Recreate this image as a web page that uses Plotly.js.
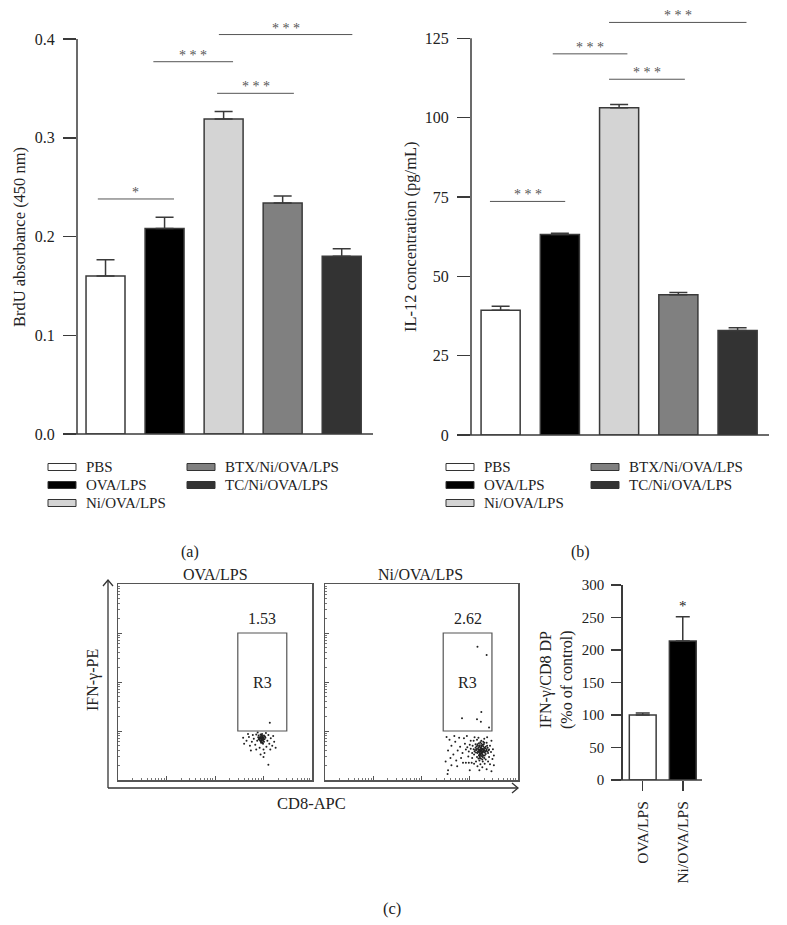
<!DOCTYPE html>
<html><head><meta charset="utf-8">
<script src="https://cdn.plot.ly/plotly-3.0.1.min.js"></script>
<style>body{margin:0;background:#fff}#chart{width:787px;height:925px}</style>
</head><body><div id="chart"></div>
<script>
// ---------------- data ----------------
const groups = ['PBS','OVA/LPS','Ni/OVA/LPS','BTX/Ni/OVA/LPS','TC/Ni/OVA/LPS'];
const groupColors = ['#ffffff','#000000','#d4d4d4','#808080','#333333'];
const brduMean = [0.160, 0.208, 0.319, 0.234, 0.180];
const brduErr  = [0.0165, 0.0115, 0.0075, 0.007, 0.0075];
const il12Mean = [39.3, 63.2, 103.1, 44.2, 32.9];
const il12Err  = [1.3, 0.4, 1.0, 0.7, 0.9];
const brduTicks = [0, 0.1, 0.2, 0.3, 0.4];
const brduTickText = ['0.0','0.1','0.2','0.3','0.4'];
const il12Ticks = [0, 25, 50, 75, 100, 125];
// significance brackets: x span (category units), y level, label
const brduSigX0 = [-0.13, 0.81, 1.89, 1.92];
const brduSigX1 = [1.16, 2.16, 3.19, 4.18];
const brduSigY  = [0.238, 0.377, 0.345, 0.4045];
const brduSigLabel = ['*','* * *','* * *','* * *'];
const il12SigX0 = [-0.18, 0.88, 1.83, 1.83];
const il12SigX1 = [1.09, 2.14, 3.11, 4.15];
const il12SigY  = [73.6, 120.1, 112.1, 130.0];
const il12SigLabel = ['* * *','* * *','* * *','* * *'];

const ifnGroups = ['OVA/LPS','Ni/OVA/LPS'];
const ifnColors = ['#ffffff','#000000'];
const ifnMean = [100, 214];
const ifnErr  = [3, 37];
const ifnTicks = [0, 50, 100, 150, 200, 250, 300];
const ifnSigLabel = ['', '*'];

// flow cytometry (log10 decades of fluorescence)
const flowTitles = ['OVA/LPS','Ni/OVA/LPS'];
const gatePct = ['1.53','2.62'];
const gateX0 = [2.47, 2.45];
const gateX1 = [3.48, 3.46];
const gateY0 = [1, 1];
const gateY1 = [3, 3];
const ovaDotsX = [2.95,2.97,2.93,2.99,2.96,2.91,3.00,2.94,2.98,2.92,2.96,3.02,2.89,2.95,3.01,2.97,2.90,3.04,2.87,2.99,
  2.80,2.76,2.70,2.65,2.60,2.72,2.83,2.85,2.78,3.08,3.12,3.15,3.10,3.18,3.22,3.06,2.92,3.00,2.85,3.14,2.68,2.58,3.20,3.05,2.88,3.02,2.94,3.10,3.00,3.13,3.25,2.74,
  2.96,2.94,2.98,2.93,2.97,2.95,3.00,2.92,2.99,2.96,3.03,2.90,2.94,3.01,2.98];
const ovaDotsY = [0.86,0.84,0.88,0.82,0.80,0.85,0.87,0.79,0.90,0.82,0.92,0.83,0.87,0.76,0.78,0.94,0.91,0.86,0.80,0.74,
  0.84,0.78,0.88,0.80,0.74,0.70,0.72,0.93,0.92,0.80,0.74,0.85,0.92,0.70,0.78,0.68,0.66,0.62,0.62,0.62,0.94,0.86,0.90,0.96,0.97,0.55,0.52,0.31,0.47,1.17,0.66,0.60,
  0.83,0.85,0.86,0.81,0.88,0.90,0.84,0.86,0.80,0.77,0.89,0.83,0.93,0.91,0.76];
const niDotsX = [3.23,3.25,3.21,3.27,3.19,3.24,3.29,3.22,3.26,3.18,3.30,3.20,3.28,3.16,3.32,3.25,3.14,3.33,3.21,3.27,3.17,3.35,3.12,3.23,3.30,3.10,3.36,3.19,3.28,3.15,3.38,3.08,3.24,3.33,3.12,3.40,3.06,3.20,3.35,3.27,
  3.05,3.02,3.00,3.08,3.15,3.30,3.42,3.44,3.40,3.38,3.31,3.22,3.13,3.05,2.98,2.95,3.02,3.18,3.45,3.47,3.42,3.26,3.16,3.09,2.97,2.92,2.90,3.36,3.48,3.10,
  2.85,2.80,2.75,2.70,2.66,2.62,2.58,2.55,2.52,2.60,2.72,2.82,2.88,2.78,2.68,2.86,2.92,2.98,3.04,2.74,2.62,2.55,2.50,3.20,3.35,3.50,3.50,2.94,3.00,3.45,2.54,
  3.22,3.24,3.26,3.20,3.28,3.23,3.25,3.21,3.27,3.19,3.29,3.22,3.24,3.26,3.18,3.31,3.20,3.28,3.17,3.30,3.23,3.25,3.21,3.32,3.15,3.27,3.34,3.19,3.29,3.13,3.24,3.36,3.16,3.31,3.21,3.11,3.33,3.26,3.18,3.37,3.09,3.14,3.22,3.30,3.39,
  3.16,3.35,3.24,2.84,3.15,3.23,3.40];
const niDotsY = [0.58,0.60,0.62,0.56,0.57,0.64,0.61,0.53,0.52,0.63,0.66,0.68,0.50,0.55,0.58,0.70,0.61,0.53,0.48,0.72,0.70,0.63,0.66,0.44,0.45,0.58,0.70,0.75,0.78,0.47,0.55,0.63,0.80,0.42,0.73,0.62,0.70,0.40,0.76,0.38,
  0.55,0.64,0.72,0.80,0.82,0.84,0.70,0.57,0.47,0.38,0.33,0.32,0.38,0.45,0.58,0.67,0.80,0.86,0.80,0.43,0.32,0.26,0.28,0.33,0.48,0.62,0.74,0.87,0.63,0.87,
  0.55,0.68,0.60,0.78,0.52,0.70,0.82,0.60,0.88,0.45,0.40,0.45,0.85,0.86,0.90,0.35,0.35,0.35,0.35,0.28,0.30,0.20,0.38,0.20,0.22,0.50,0.30,0.90,0.20,0.18,0.12,
  0.60,0.56,0.62,0.59,0.58,0.66,0.54,0.55,0.64,0.61,0.63,0.51,0.68,0.57,0.66,0.56,0.52,0.69,0.58,0.60,0.63,0.49,0.71,0.65,0.64,0.47,0.60,0.50,0.73,0.56,0.74,0.58,0.73,0.50,0.45,0.61,0.68,0.42,0.44,0.66,0.52,0.69,0.77,0.76,0.60,
  2.72,2.55,1.39,1.26,1.24,1.19,1.07];

// ---------------- helpers (pixel -> paper) ----------------
const W = 787, H = 925;
const PX = p => p / W;
const PY = p => 1 - p / H;
const FONT = 'Liberation Serif, Times New Roman, serif';
const TXT = '#222';
const LINE = '#3a3a3a';

function domY(zeroPx, refPx, refVal, maxVal) {
  const s = (zeroPx - refPx) / refVal;
  return [PY(zeroPx), PY(zeroPx - maxVal * s)];
}

const traces = [];
const shapes = [];
const annotations = [];

function addAnno(o) { annotations.push(Object.assign({showarrow:false, xanchor:'center', yanchor:'middle', font:{family:FONT,size:16,color:TXT}}, o)); }

// ---------------- panel a & b bars ----------------
const idx = groups.map((g,i)=>i);
traces.push({type:'bar', x: idx, y: brduMean, xaxis:'x', yaxis:'y', width:0.66,
  marker:{color:groupColors, line:{color:LINE, width:1.5}},
  error_y:{type:'data', symmetric:false, array:brduErr, arrayminus:brduErr.map(()=>0), color:LINE, thickness:1.5, width:9},
  showlegend:false, hoverinfo:'skip'});
traces.push({type:'bar', x: idx, y: il12Mean, xaxis:'x2', yaxis:'y2', width:0.66,
  marker:{color:groupColors, line:{color:LINE, width:1.5}},
  error_y:{type:'data', symmetric:false, array:il12Err, arrayminus:il12Err.map(()=>0), color:LINE, thickness:1.5, width:9},
  showlegend:false, hoverinfo:'skip'});

// significance brackets
function sig(x0s,x1s,ys,labels,xa,ya){
  ys.forEach((y,i)=>{
    shapes.push({type:'line', xref:xa, yref:ya, x0:x0s[i], x1:x1s[i], y0:y, y1:y, line:{color:'#555', width:1}});
    addAnno({xref:xa, yref:ya, x:(x0s[i]+x1s[i])/2, y:y, yanchor:'bottom', yshift:-3, text:labels[i], font:{family:FONT,size:14,color:'#555'}});
  });
}
sig(brduSigX0,brduSigX1,brduSigY,brduSigLabel,'x','y');
sig(il12SigX0,il12SigX1,il12SigY,il12SigLabel,'x2','y2');

// ---------------- panel c bars ----------------
traces.push({type:'bar', x: ifnGroups, y: ifnMean, xaxis:'x5', yaxis:'y5', width:0.67,
  marker:{color:ifnColors, line:{color:LINE, width:1.5}},
  error_y:{type:'data', symmetric:false, array:ifnErr, arrayminus:ifnErr.map(()=>0), color:LINE, thickness:1.5, width:7},
  showlegend:false, hoverinfo:'skip'});
ifnGroups.forEach((g,i)=>{ if(ifnSigLabel[i]) addAnno({xref:'x5', yref:'y5', x:g, y:ifnMean[i]+ifnErr[i], yanchor:'bottom', yshift:1, text:ifnSigLabel[i], font:{family:FONT,size:15,color:TXT}}); });

// ---------------- flow dot plots ----------------
traces.push({type:'scatter', mode:'markers', x: ovaDotsX, y: ovaDotsY, xaxis:'x3', yaxis:'y3', marker:{size:2, color:'#222'}, showlegend:false, hoverinfo:'skip'});
traces.push({type:'scatter', mode:'markers', x: niDotsX, y: niDotsY, xaxis:'x4', yaxis:'y4', marker:{size:2, color:'#222'}, showlegend:false, hoverinfo:'skip'});
[['x3','y3'],['x4','y4']].forEach(([xa,ya],i)=>{
  shapes.push({type:'rect', xref:xa, yref:ya, x0:gateX0[i], x1:gateX1[i], y0:gateY0[i], y1:gateY1[i], line:{color:'#555', width:1.2}});
  addAnno({xref:xa, yref:ya, x:(gateX0[i]+gateX1[i])/2, y:gateY1[i], yanchor:'bottom', yshift:4, text:gatePct[i]});
  addAnno({xref:xa, yref:ya, x:(gateX0[i]+gateX1[i])/2, y:(gateY0[i]+gateY1[i])/2, text:'R3'});
});

// ---------------- axes ----------------
const minorVals = [];
for (let k=0;k<4;k++) for (let m=2;m<10;m++) minorVals.push(k+Math.log10(m));
const flowAxis = (dom) => ({domain:dom, range:[0,4], showline:true, mirror:true, linecolor:'#555', linewidth:1.5,
  ticks:'inside', ticklen:4, tickwidth:1, tickcolor:'#555', tickvals:[0,1,2,3,4], showticklabels:false,
  minor:{tickmode:'array', tickvals:minorVals, ticks:'inside', ticklen:2, tickcolor:'#777'},
  showgrid:false, zeroline:false, fixedrange:true});
const barX = (dom,range) => ({domain:dom, range:range, showticklabels:false, ticks:'', showline:false, showgrid:false, zeroline:false, fixedrange:true});
const barY = (dom,range,tv,tt) => ({domain:dom, range:range, tickvals:tv, ticktext:tt, ticks:'outside', ticklen:13, tickwidth:1.5, tickcolor:LINE,
  showline:false, showgrid:false, zeroline:false, tickfont:{family:FONT,size:16,color:TXT}, ticklabelstandoff:5, fixedrange:true});

const aDomY = domY(434, 39, 0.4, 0.41);
const bDomY = domY(435, 38.3, 125, 132);
const cDomY = [PY(780), PY(585)];

const layout = {
  width:W, height:H, margin:{l:0,r:0,t:0,b:0}, paper_bgcolor:'#fff', plot_bgcolor:'rgba(0,0,0,0)',
  font:{family:FONT, color:TXT}, showlegend:false, bargap:0,
  xaxis: barX([PX(77),PX(373)], [-0.483, 4.53]),
  yaxis: barY(aDomY, [0,0.41], brduTicks, brduTickText),
  xaxis2: Object.assign(barX([PX(471),PX(769)], [-0.50, 4.53]), {anchor:'y2'}),
  yaxis2: Object.assign(barY(bDomY, [0,132], il12Ticks, il12Ticks.map(String)), {anchor:'x2'}),
  xaxis3: Object.assign(flowAxis([PX(118),PX(312)]), {anchor:'y3'}),
  yaxis3: Object.assign(flowAxis([PY(780),PY(584)]), {anchor:'x3'}),
  xaxis4: Object.assign(flowAxis([PX(325),PX(518)]), {anchor:'y4'}),
  yaxis4: Object.assign(flowAxis([PY(780),PY(584)]), {anchor:'x4'}),
  xaxis5: {domain:[PX(622.7),PX(702)], range:[-0.5,1.48], anchor:'y5', ticks:'outside', ticklen:10, tickwidth:1.5, tickcolor:LINE,
    showline:false, showgrid:false, zeroline:false, tickangle:-90, tickfont:{family:FONT,size:15.5,color:TXT}, ticklabelstandoff:4, fixedrange:true},
  yaxis5: {domain:cDomY, range:[0,300], anchor:'x5', tickvals:ifnTicks, ticks:'outside', ticklen:10, tickwidth:1.5, tickcolor:LINE,
    showline:true, linecolor:LINE, linewidth:1.5, showgrid:false, zeroline:false, tickfont:{family:FONT,size:15,color:TXT}, ticklabelstandoff:4, fixedrange:true},
  shapes: shapes, annotations: annotations
};

// axis lines (paper coords)
function axisLines(xl, xr, yb, yt, ext){
  shapes.push({type:'line', xref:'paper', yref:'paper', x0:PX(xl-ext), x1:PX(xr), y0:PY(yb), y1:PY(yb), line:{color:LINE,width:1.5}});
  shapes.push({type:'line', xref:'paper', yref:'paper', x0:PX(xl), x1:PX(xl), y0:PY(yb), y1:PY(yt), line:{color:LINE,width:1.5}});
}
axisLines(77, 373, 434, 39, 14);
axisLines(471, 769, 435, 38.3, 13);
shapes.push({type:'line', xref:'paper', yref:'paper', x0:PX(612), x1:PX(702), y0:PY(780), y1:PY(780), line:{color:LINE,width:1.5}});

// outer flow axes with arrows
shapes.push({type:'line', xref:'paper', yref:'paper', x0:PX(108), x1:PX(108), y0:PY(788), y1:PY(580), line:{color:'#333',width:1.3}});
shapes.push({type:'line', xref:'paper', yref:'paper', x0:PX(108), x1:PX(518), y0:PY(788), y1:PY(788), line:{color:'#333',width:1.3}});
shapes.push({type:'path', xref:'paper', yref:'paper', path:`M ${PX(103)} ${PY(586)} L ${PX(108)} ${PY(580)} L ${PX(113)} ${PY(586)}`, line:{color:'#333',width:1.3}});
shapes.push({type:'path', xref:'paper', yref:'paper', path:`M ${PX(512)} ${PY(783)} L ${PX(518)} ${PY(788)} L ${PX(512)} ${PY(793)}`, line:{color:'#333',width:1.3}});

// titles
addAnno({xref:'paper', yref:'paper', x:PX(19), y:PY(237), text:'BrdU absorbance (450 nm)', textangle:-90, font:{family:FONT,size:16.5,color:TXT}});
addAnno({xref:'paper', yref:'paper', x:PX(410), y:PY(237), text:'IL-12 concentration (pg/mL)', textangle:-90, font:{family:FONT,size:16.5,color:TXT}});
addAnno({xref:'paper', yref:'paper', x:PX(215), y:PY(574), text:flowTitles[0]});
addAnno({xref:'paper', yref:'paper', x:PX(421), y:PY(574), text:flowTitles[1]});
addAnno({xref:'paper', yref:'paper', x:PX(93), y:PY(680), text:'IFN-γ-PE', textangle:-90});
addAnno({xref:'paper', yref:'paper', x:PX(311), y:PY(803), text:'CD8-APC', font:{family:FONT,size:16.5,color:TXT}});
addAnno({xref:'paper', yref:'paper', x:PX(556), y:PY(680), text:'IFN-γ/CD8 DP<br>(%o of control)', textangle:-90});
addAnno({xref:'paper', yref:'paper', x:PX(190), y:PY(552), text:'(a)'});
addAnno({xref:'paper', yref:'paper', x:PX(580), y:PY(552), text:'(b)'});
addAnno({xref:'paper', yref:'paper', x:PX(392), y:PY(908), text:'(c)', font:{family:FONT,size:16.5,color:TXT}});

// legends
function legend(x0, colStep){
  groups.forEach((g,i)=>{
    const col = i<3 ? 0 : 1, row = i<3 ? i : i-3;
    const sx = x0 + col*colStep, cy = 467 + row*18;
    shapes.push({type:'rect', xref:'paper', yref:'paper', x0:PX(sx), x1:PX(sx+28), y0:PY(cy+3.5), y1:PY(cy-3.5), fillcolor:groupColors[i], line:{color:'#333',width:1}});
    addAnno({xref:'paper', yref:'paper', x:PX(sx+36), y:PY(cy), xanchor:'left', text:g, font:{family:FONT,size:15,color:TXT}});
  });
}
legend(48, 139);
legend(446, 145);

Plotly.newPlot('chart', traces, layout, {staticPlot:true});
</script></body></html>
